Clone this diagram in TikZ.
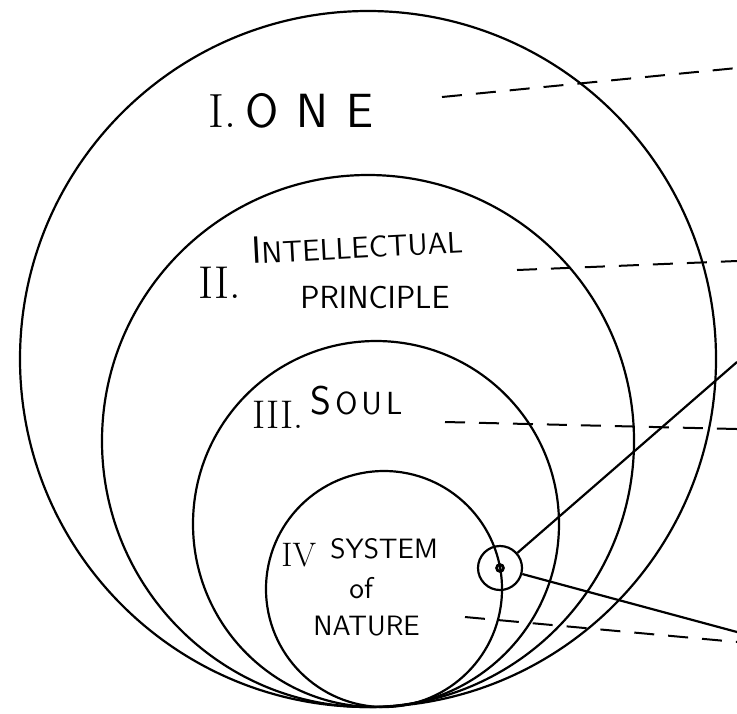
\documentclass[tikz,border=0pt]{standalone}
\usepackage{fontspec}
\usetikzlibrary{positioning}

\begin{document}
\begin{tikzpicture}[x=0.5pt,y=-0.5pt,
  ring/.style={line width=1.1pt},
  leader/.style={line width=1pt,dash pattern=on 10pt off 7pt},
  lbl/.style={inner sep=0pt,font=\sffamily},
  numeral/.style={inner sep=0pt,font=\rmfamily}]
\useasboundingbox (0,0) rectangle (737,713);
% the four spheres, all touching at the bottom
\draw[ring] (368,359) circle[radius=174pt];
\draw[ring] (368,441) circle[radius=133pt];
\draw[ring] (376,524) circle[radius=91.5pt];
\draw[ring] (384,589) circle[radius=59pt];
% labels
\node[numeral,font=\rmfamily\fontsize{24}{24}\selectfont,anchor=base west] (oneN) at (208,127) {I.};
\node[lbl,font=\sffamily\fontsize{24}{24}\selectfont,anchor=base west] (one) at (245,127) {O\hspace{9pt}N\hspace{9pt}E};
\node[numeral,font=\rmfamily\fontsize{23}{23}\selectfont,anchor=base west] (twoN) at (198,298) {II.};
\node[lbl,anchor=base west,rotate=3] (intel) at (252,264) {{\fontsize{19}{19}\selectfont I}{\fontsize{15}{15}\selectfont NTELLECTUAL}};
\node[lbl,font=\sffamily\fontsize{16}{16}\selectfont,anchor=base west] (princ) at (300,308) {PRINCIPLE};
\node[numeral,font=\rmfamily\fontsize{20}{20}\selectfont,anchor=base west] (threeN) at (252,428) {III.};
\node[lbl,anchor=base west] (soul) at (310,414) {{\fontsize{20}{20}\selectfont S}\hspace{2pt}{\fontsize{16}{16}\selectfont O\hspace{2pt}U\hspace{2pt}L}};
\node[numeral,font=\rmfamily\fontsize{17}{17}\selectfont,anchor=base west] (fourN) at (281,566) {IV};
\node[lbl,font=\sffamily\fontsize{14}{14}\selectfont,anchor=base west] (system) at (330,558) {SYSTEM};
\node[lbl,font=\sffamily\fontsize{15}{15}\selectfont,anchor=base west] (of) at (349,598) {of};
\node[lbl,font=\sffamily\fontsize{14}{14}\selectfont,anchor=base west] (nature) at (313,635) {NATURE};
% the small world on the rim of the fourth sphere
\node[circle,draw,line width=1.1pt,minimum size=22pt,inner sep=0pt] (world) at (500,568) {};
\draw[line width=1.4pt] (world.center) circle[radius=1.7pt];
\coordinate (farUp) at (737,362);
\coordinate (farDown) at (737,632);
\draw[ring] (world) -- (farUp);
\draw[ring] (world) -- (farDown);
% leaders
\coordinate (oneA) at (442,97);    \coordinate (oneB) at (737,68);
\coordinate (twoA) at (517,270);   \coordinate (twoB) at (737,261);
\coordinate (threeA) at (445,422); \coordinate (threeB) at (737,429);
\coordinate (fourA) at (465,617);  \coordinate (fourB) at (737,642);
\draw[leader] (oneA) -- (oneB);
\draw[leader] (twoA) -- (twoB);
\draw[leader] (threeA) -- (threeB);
\draw[leader] (fourA) -- (fourB);
\end{tikzpicture}
\end{document}
